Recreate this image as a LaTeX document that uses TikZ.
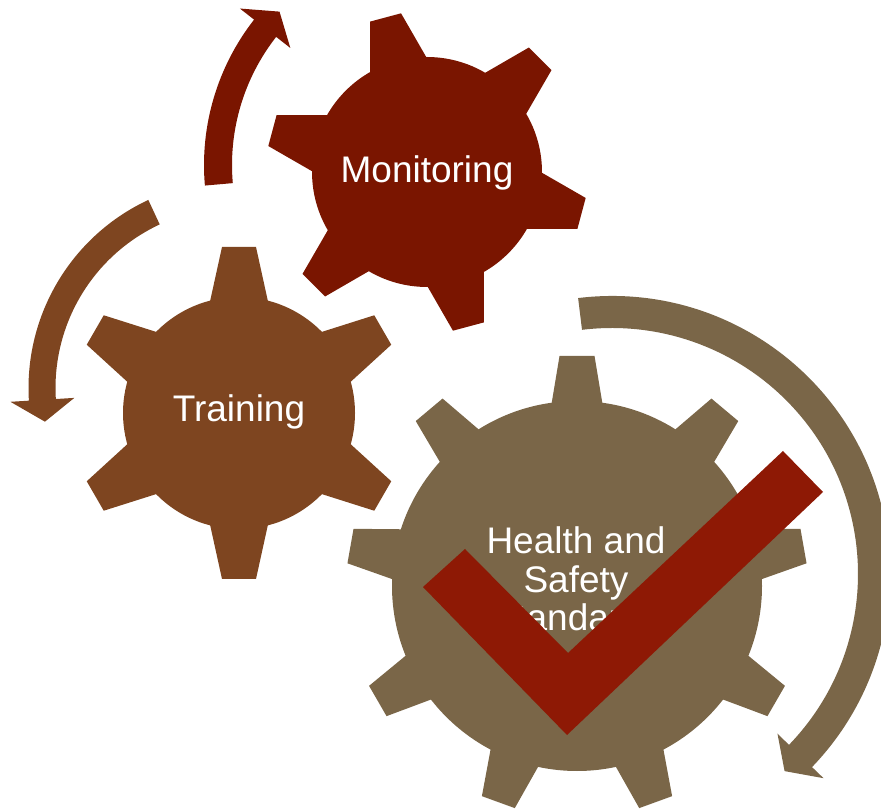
\documentclass[tikz,border=0pt]{standalone}
\usepackage{fontspec}
\setmainfont{Liberation Sans}
\definecolor{monired}{RGB}{122,21,0}
\definecolor{trainbrown}{RGB}{126,69,32}
\definecolor{safeolive}{RGB}{122,102,72}
\definecolor{checkred}{RGB}{142,25,5}
% gear: centre, body radius, tip radius, teeth, first angle, half width at body, at tip, colour
\newcommand{\drawgear}[8]{%
  \begin{scope}[shift={#1}]
    \fill[#8] (0,0) circle (#2);
    \pgfmathsetmacro{\gstep}{360/#4}
    \pgfmathsetmacro{\gin}{#2-10}
    \pgfmathsetmacro{\gwin}{#6+(#6-#7)*10/(#3-#2)}
    \foreach \k in {1,...,#4}{
      \fill[#8,rotate=#5+\k*\gstep] (\gin,-\gwin) -- (#3,-#7) -- (#3,#7) -- (\gin,\gwin) -- cycle;
    }
  \end{scope}}
% round arrow: centre, radius, start angle, tip angle, half width, colour
\newcommand{\circarrow}[6]{%
  \begin{scope}[shift={#1}]
    \pgfmathsetmacro{\arbase}{#4+22/#2*180/pi*sign((#3)-(#4))}
    \pgfmathsetmacro{\arout}{#2+#5}
    \pgfmathsetmacro{\arin}{#2-#5}
    \pgfmathsetmacro{\arbo}{#2+32}
    \pgfmathsetmacro{\arbi}{#2-32}
    \fill[#6] (#3:\arout) arc[start angle=#3, end angle=\arbase, radius=\arout]
      -- (\arbase:\arbo) -- (#4:#2) -- (\arbase:\arbi) -- (\arbase:\arin)
      arc[start angle=\arbase, end angle=#3, radius=\arin] -- cycle;
  \end{scope}}
\begin{document}
\begin{tikzpicture}[x=1pt, y=1pt]
  \tikzset{gearlabel/.style={text=white, inner sep=0pt, font=\fontsize{37}{38.5}\selectfont, align=center}}
  \useasboundingbox (0,0) rectangle (881,809);
  \clip (0,0) rectangle (881,809);
  \drawgear{(427,637)}{115}{160}{6}{45}{28}{16}{monired}
  \drawgear{(239,396)}{116}{166}{6}{30}{28}{17}{trainbrown}
  \drawgear{(577,223)}{185}{230}{9}{10}{25}{17.5}{safeolive}
  \circarrow{(440,644)}{222}{185}{136.3}{14}{monired}
  \circarrow{(236,421)}{194}{115}{190}{13.5}{trainbrown}
  \circarrow{(612,235)}{262}{97}{-48.8}{16}{safeolive}
  \node[gearlabel, anchor=base] (monitoring) at (427,626) {Monitoring};
  \node[gearlabel, anchor=base] (training) at (239,387) {Training};
  \node[gearlabel] (standards) at (576,230) {Health and\\Safety\\Standards};
  % tick mark
  \fill[checkred] (423,222) -- (465,260) -- (568,156) -- (783,358) -- (823,317) -- (567,74) -- cycle;
\end{tikzpicture}
\end{document}
